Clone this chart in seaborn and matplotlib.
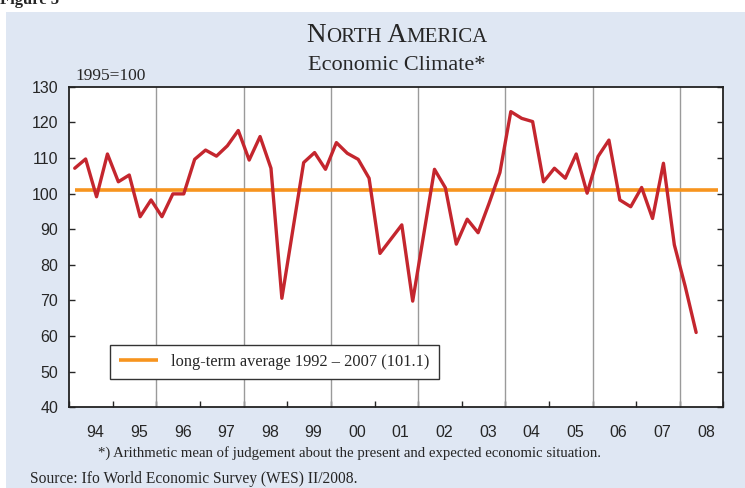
import numpy as np
import pandas as pd
import matplotlib
matplotlib.use('Agg')
import matplotlib.pyplot as plt
import seaborn as sns
from matplotlib.patches import Rectangle
from matplotlib.offsetbox import TextArea, HPacker, AnchoredOffsetbox

# Economic climate, quarterly 1994 Q1 - 2008 Q2 (1995=100)
start_year = 1994
climate = [107.1, 109.7, 99.1, 111.1, 103.3, 105.2, 93.5, 98.2,
           93.5, 99.9, 99.9, 109.6, 112.2, 110.5, 113.4, 117.7,
           109.4, 116.0, 107.1, 70.6, 89.7, 108.7, 111.5, 106.8,
           114.3, 111.3, 109.6, 104.3, 83.2, 87.2, 91.2, 69.8,
           88.3, 106.8, 101.6, 85.8, 92.8, 89.0, 97.2, 105.9,
           123.0, 121.1, 120.2, 103.3, 107.1, 104.3, 111.1, 100.1,
           110.4, 115.0, 98.2, 96.3, 101.7, 93.0, 108.5, 85.6,
           73.9, 61.0]
long_term_avg = 101.1
year_labels = ['94', '95', '96', '97', '98', '99', '00', '01',
               '02', '03', '04', '05', '06', '07', '08']

df = pd.DataFrame({'value': climate})
df['quarter'] = np.arange(len(df))
df['time'] = start_year + (df['quarter'] + 0.5) / 4

sns.set_style('ticks')
plt.rcParams['font.family'] = ['Liberation Serif', 'DejaVu Serif']

red = '#C4262E'
orange = '#F7941E'
panel = '#DFE7F3'

fig = plt.figure(figsize=(7.45, 4.88), dpi=100, facecolor='white')
fig.add_artist(Rectangle((6 / 745, 0), 1, 1 - 12 / 488, transform=fig.transFigure,
                         facecolor=panel, edgecolor='none', zorder=-10))
# caption of the page, cut off at the top like in the source
fig.text(0.0, 1.0, 'Figure 5', fontweight='bold', fontsize=12, va='center', ha='left')

ax = fig.add_axes([0.093, 0.1654, 0.878, 0.657])
ax.set_facecolor('white')

# vertical grid every two years
for yr in range(1996, 2009, 2):
    ax.axvline(yr, color='#9A9A9A', lw=1.0, zorder=1)

ax.hlines(long_term_avg, df['time'].iloc[0], 2008.875, color=orange, lw=2.6,
          zorder=2, label='long-term average 1992 \u2013 2007 (101.1)')
sns.lineplot(data=df, x='time', y='value', ax=ax, color=red, lw=2.4, zorder=3)

ax.set_xlim(1994, 2009)
ax.set_ylim(40, 130)
ax.set_xlabel('')
ax.set_ylabel('')

years = np.arange(1994, 2010)
ax.set_xticks(years)
ax.set_xticklabels([])
ax.set_xticks(years[:-1] + 0.6, minor=True)
ax.set_xticklabels(year_labels, minor=True, family='Liberation Sans', fontsize=11.5)
ax.tick_params(axis='x', which='major', direction='in', length=4, width=1, top=False)
ax.tick_params(axis='x', which='minor', length=0, pad=13)

ax.set_yticks(np.arange(40, 131, 10))
ax.tick_params(axis='y', direction='in', length=4, width=1, right=True, left=True,
               labelsize=11.5, pad=8)
for lab in ax.get_yticklabels():
    lab.set_family('Liberation Sans')

for sp in ax.spines.values():
    sp.set_visible(True)
    sp.set_color('#222222')
    sp.set_linewidth(1.3)

leg = ax.legend(loc='lower left', bbox_to_anchor=(0.062, 0.088), fontsize=11.8,
                frameon=True, fancybox=False, handlelength=2.4, borderpad=0.55,
                handletextpad=0.8, borderaxespad=0)
leg.get_frame().set_edgecolor('#333333')
leg.get_frame().set_linewidth(1.0)
leg.get_frame().set_alpha(1)

# small-caps style title
parts = [('N', 19.5), ('ORTH', 15), (' A', 19.5), ('MERICA', 15)]
boxes = [TextArea(t, textprops=dict(family='Liberation Serif', size=s)) for t, s in parts]
pack = HPacker(children=boxes, align='baseline', pad=0, sep=0)
title_box = AnchoredOffsetbox(loc='center', child=pack, bbox_to_anchor=(0.533, 0.927),
                              bbox_transform=fig.transFigure, frameon=False,
                              pad=0, borderpad=0)
fig.add_artist(title_box)
fig.text(0.533, 0.866, 'Economic Climate*', fontsize=16, ha='center', va='center')
fig.text(0.101, 0.845, '1995=100', fontsize=12.5, ha='left', va='center')

fig.text(0.1315, 0.072,
         '*) Arithmetic mean of judgement about the present and expected economic situation.',
         fontsize=10.6, ha='left', va='center')
fig.text(0.040, 0.0185, 'Source: Ifo World Economic Survey (WES) II/2008.',
         fontsize=11.2, ha='left', va='center')

fig.savefig('out.png', dpi=100, facecolor=fig.get_facecolor())
